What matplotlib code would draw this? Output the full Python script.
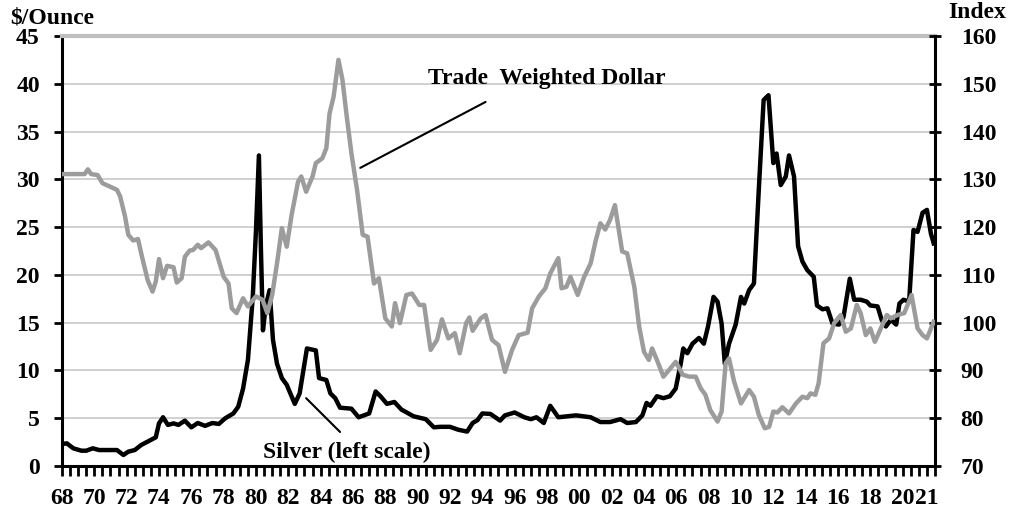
import numpy as np
import matplotlib
matplotlib.use("Agg")
from matplotlib import pyplot as plt
from matplotlib.ticker import FixedLocator

# silver price, $/ounce (left scale)
silver_years = [1968.0, 1968.3, 1968.7, 1969.2, 1969.5, 1969.9, 1970.3, 1971.4, 1971.8, 1972.1,
                1972.5, 1972.9, 1973.3, 1973.8, 1974.0, 1974.25, 1974.55, 1974.9, 1975.2, 1975.6,
                1976.0, 1976.4, 1976.85, 1977.3, 1977.7, 1978.1, 1978.6, 1978.9, 1979.2, 1979.5,
                1979.8, 1980.0, 1980.18, 1980.3, 1980.43, 1980.6, 1980.84, 1981.05, 1981.3, 1981.6,
                1981.9, 1982.4, 1982.7, 1983.15, 1983.7, 1983.9, 1984.35, 1984.6, 1984.9, 1985.2,
                1985.9, 1986.35, 1987.0, 1987.4, 1987.7, 1988.1, 1988.56, 1989.0, 1989.75, 1990.5,
                1991.0, 1991.4, 1992.0, 1992.5, 1993.06, 1993.4, 1993.7, 1994.0, 1994.5, 1995.1,
                1995.4, 1996.0, 1996.6, 1997.0, 1997.35, 1997.8, 1998.2, 1998.7, 1999.25, 1999.8,
                2000.7, 2001.3, 2001.9, 2002.55, 2002.96, 2003.5, 2003.9, 2004.16, 2004.4, 2004.8,
                2005.2, 2005.6, 2005.96, 2006.27, 2006.43, 2006.68, 2007.0, 2007.4, 2007.7, 2007.96,
                2008.3, 2008.55, 2008.8, 2009.0, 2009.26, 2009.67, 2010.0, 2010.2, 2010.5, 2010.8,
                2011.1, 2011.4, 2011.7, 2012.0, 2012.2, 2012.46, 2012.77, 2012.97, 2013.28, 2013.53,
                2013.8, 2014.1, 2014.5, 2014.7, 2015.04, 2015.35, 2015.66, 2016.07, 2016.34, 2016.73,
                2017.0, 2017.4, 2017.78, 2018.0, 2018.45, 2018.7, 2018.96, 2019.27, 2019.6, 2019.8,
                2020.05, 2020.4, 2020.67, 2020.92, 2021.23, 2021.5, 2021.75, 2021.92]
silver_prices = [2.3, 2.37, 1.85, 1.6, 1.6, 1.85, 1.67, 1.67, 1.15, 1.5,
                 1.67, 2.2, 2.55, 3.0, 4.46, 5.1, 4.3, 4.46, 4.3, 4.74,
                 4.05, 4.5, 4.2, 4.5, 4.4, 5.0, 5.5, 6.2, 8.1, 11.1,
                 17.7, 24.7, 32.5, 23.0, 14.2, 16.7, 18.4, 13.2, 10.7, 9.2,
                 8.5, 6.5, 7.6, 12.3, 12.1, 9.2, 9.0, 7.6, 7.1, 6.1,
                 6.0, 5.1, 5.5, 7.8, 7.3, 6.5, 6.7, 5.9, 5.2, 4.9,
                 4.05, 4.1, 4.1, 3.8, 3.6, 4.5, 4.8, 5.5, 5.45, 4.75,
                 5.3, 5.6, 5.1, 4.9, 5.1, 4.5, 6.3, 5.1, 5.2, 5.3,
                 5.1, 4.6, 4.6, 4.9, 4.5, 4.6, 5.3, 6.6, 6.3, 7.3,
                 7.1, 7.3, 8.1, 10.7, 12.3, 11.8, 12.8, 13.4, 12.8, 14.6,
                 17.7, 17.2, 14.9, 10.7, 12.8, 14.8, 17.7, 17.0, 18.4, 19.1,
                 28.9, 38.3, 38.8, 31.7, 32.7, 29.4, 30.3, 32.5, 30.3, 23.0,
                 21.4, 20.5, 19.8, 16.8, 16.4, 16.5, 14.9, 14.8, 15.6, 19.6,
                 17.4, 17.4, 17.2, 16.8, 16.7, 15.3, 14.6, 15.3, 14.8, 17.0,
                 17.4, 17.2, 24.7, 24.5, 26.5, 26.8, 24.3, 23.3]

# trade weighted dollar index (right scale)
dollar_years = [1968.0, 1969.4, 1969.6, 1969.8, 1970.2, 1970.5, 1970.95, 1971.4, 1971.6, 1971.9,
                1972.1, 1972.4, 1972.7, 1972.9, 1973.3, 1973.6, 1973.8, 1974.0, 1974.25, 1974.5,
                1974.9, 1975.1, 1975.4, 1975.6, 1975.9, 1976.1, 1976.4, 1976.6, 1977.06, 1977.5,
                1978.0, 1978.3, 1978.5, 1978.8, 1979.2, 1979.5, 1980.0, 1980.4, 1980.7, 1981.0,
                1981.3, 1981.6, 1981.9, 1982.2, 1982.6, 1982.8, 1983.1, 1983.5, 1983.7, 1984.1,
                1984.35, 1984.55, 1984.8, 1985.1, 1985.35, 1985.6, 1985.9, 1986.25, 1986.6, 1986.9,
                1987.3, 1987.6, 1988.0, 1988.4, 1988.6, 1988.9, 1989.3, 1989.65, 1990.1, 1990.4,
                1990.8, 1991.2, 1991.5, 1991.9, 1992.3, 1992.6, 1993.0, 1993.2, 1993.4, 1993.9,
                1994.2, 1994.6, 1995.0, 1995.4, 1995.84, 1996.25, 1996.8, 1997.08, 1997.5, 1997.9,
                1998.2, 1998.7, 1998.9, 1999.2, 1999.45, 1999.9, 2000.3, 2000.7, 2001.0, 2001.3,
                2001.6, 2001.9, 2002.2, 2002.65, 2002.96, 2003.4, 2003.7, 2004.0, 2004.3, 2004.5,
                2004.8, 2005.2, 2005.55, 2005.96, 2006.4, 2006.8, 2007.2, 2007.5, 2007.8, 2008.1,
                2008.55, 2008.8, 2009.05, 2009.26, 2009.57, 2010.0, 2010.5, 2010.8, 2011.1, 2011.47,
                2011.74, 2012.0, 2012.25, 2012.56, 2012.97, 2013.4, 2013.8, 2014.1, 2014.3, 2014.6,
                2014.8, 2015.1, 2015.45, 2015.76, 2016.17, 2016.48, 2016.8, 2017.16, 2017.4, 2017.72,
                2018.0, 2018.28, 2018.65, 2019.02, 2019.27, 2019.68, 2020.1, 2020.55, 2020.92, 2021.23,
                2021.5, 2021.75, 2021.92]
dollar_index = [131.1, 131.1, 132.1, 131.1, 130.9, 129.2, 128.5, 127.8, 126.4, 122.2,
                118.4, 117.2, 117.5, 114.5, 108.9, 106.5, 108.6, 113.3, 109.3, 111.9,
                111.6, 108.4, 109.3, 113.8, 115.1, 115.2, 116.3, 115.6, 116.8, 115.2,
                109.6, 108.2, 103.0, 102.0, 105.1, 103.4, 105.5, 104.8, 102.0, 105.8,
                112.4, 119.8, 115.9, 122.5, 129.5, 130.6, 127.4, 130.6, 133.4, 134.4,
                136.5, 143.8, 147.3, 155.0, 150.8, 143.5, 135.5, 127.8, 118.4, 118.0,
                108.2, 109.3, 100.9, 99.2, 104.1, 99.9, 105.8, 106.1, 103.7, 103.7,
                94.3, 96.4, 100.7, 96.7, 97.8, 93.6, 99.9, 101.1, 98.3, 100.9,
                101.6, 96.4, 95.3, 89.7, 94.3, 97.4, 97.9, 103.0, 105.5, 107.2,
                110.3, 113.5, 107.2, 107.5, 109.6, 105.8, 109.6, 112.4, 117.0, 120.8,
                119.5, 121.5, 124.6, 114.9, 114.5, 107.5, 99.2, 93.9, 92.2, 94.6,
                92.2, 88.7, 90.1, 91.8, 89.1, 88.7, 88.7, 86.3, 84.9, 81.7,
                79.3, 81.4, 91.5, 92.5, 87.7, 83.1, 85.9, 84.5, 80.7, 77.9,
                78.2, 81.4, 81.2, 82.3, 81.0, 83.1, 84.5, 84.2, 85.2, 84.9,
                87.3, 95.7, 96.7, 99.9, 101.6, 98.1, 98.8, 103.7, 102.0, 97.4,
                98.8, 96.0, 98.8, 101.6, 100.9, 101.6, 102.0, 105.8, 98.8, 97.4,
                96.7, 98.8, 100.2]

tick_years = list(range(1968, 2021, 2)) + [2021.5]
tick_labels = ["%02d" % (y % 100) for y in range(1968, 2021, 2)] + ["21"]


def main():
    plt.rcParams['font.family'] = ['Liberation Serif', 'DejaVu Serif']
    plt.rcParams['font.weight'] = 'bold'

    fig = plt.figure(figsize=(10.11, 5.12), dpi=100)
    ax = fig.add_axes([62 / 1011, 46 / 512, 873 / 1011, 430 / 512])
    ax2 = ax.twinx()

    ax.plot(silver_years, silver_prices, color='black', lw=3.2, zorder=3)
    ax2.plot(dollar_years, dollar_index, color='#9c9c9c', lw=3.2, zorder=3)

    ax.set_xlim(1968, 2022)
    ax.set_ylim(0, 45)
    ax2.set_ylim(70, 160)
    ax.set_yticks(np.arange(0, 46, 5))
    ax2.set_yticks(np.arange(70, 161, 10))
    ax.yaxis.grid(True, color='#c8c8c8', lw=1.2)
    ax.set_axisbelow(True)

    ax.xaxis.set_major_locator(FixedLocator(tick_years))
    ax.set_xticklabels(tick_labels)
    ax.xaxis.set_minor_locator(FixedLocator(np.arange(1968, 2022.01, 0.5)))

    ax.tick_params(axis='x', which='both', direction='out', length=7, width=2, labelsize=17, pad=9)
    ax.tick_params(axis='y', direction='out', length=6, width=2, labelsize=17, pad=10)
    ax2.tick_params(axis='y', direction='inout', length=9, width=2, labelsize=17, pad=14)

    for s in ['left', 'bottom']:
        ax.spines[s].set_linewidth(2.2)
        ax.spines[s].set_color('black')
    ax.spines['right'].set_visible(False)
    ax.spines['top'].set_color('#bfbfbf')
    ax.spines['top'].set_linewidth(3)
    for s in ['left', 'bottom', 'top']:
        ax2.spines[s].set_visible(False)
    ax2.spines['right'].set_linewidth(2.2)
    ax2.spines['right'].set_color('black')

    fig.text(10 / 1011, 1 - 18 / 512, "$/Ounce", fontsize=17, fontweight='bold', ha='left', va='center')
    fig.text(977 / 1011, 1 - 13 / 512, "Index", fontsize=17, fontweight='bold', ha='center', va='center')

    ax.text(1997.98, 40.6, "Trade  Weighted Dollar", fontsize=17, fontweight='bold', ha='center', va='center')
    ax.annotate("", xy=(1986.45, 31.2), xytext=(1994.2, 38.1),
                arrowprops=dict(arrowstyle='-', color='black', lw=1.5, shrinkA=0, shrinkB=0))
    ax.text(1985.6, 1.47, "Silver (left scale)", fontsize=17, fontweight='bold', ha='center', va='center')
    ax.annotate("", xy=(1983.1, 7.1), xytext=(1985.2, 3.56),
                arrowprops=dict(arrowstyle='-', color='black', lw=1.5, shrinkA=0, shrinkB=0))

    fig.savefig("out.png", dpi=100)


if __name__ == '__main__':
    main()
